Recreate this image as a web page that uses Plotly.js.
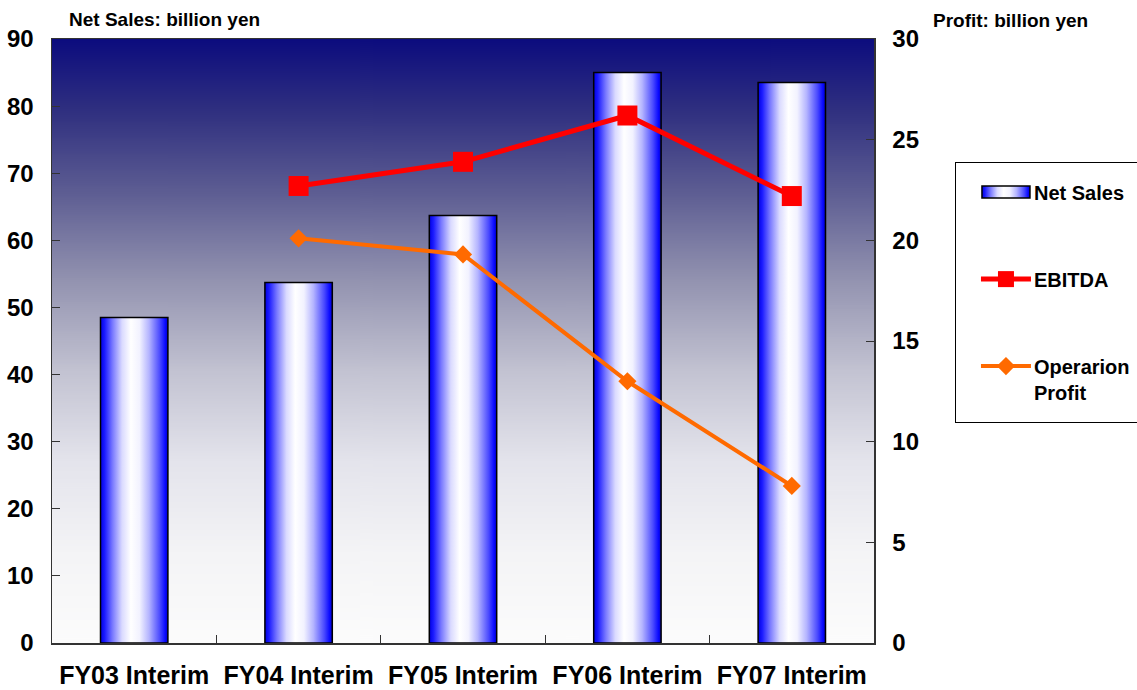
<!DOCTYPE html>
<html>
<head>
<meta charset="utf-8">
<script src="https://cdn.plot.ly/plotly-3.0.1.min.js"></script>
<style>
html,body{margin:0;padding:0;background:#fff;}
#chart{width:1137px;height:690px;}
</style>
</head>
<body>
<div id="chart"></div>
<script>
const categories = ["FY03 Interim", "FY04 Interim", "FY05 Interim", "FY06 Interim", "FY07 Interim"];
const netSales = [48.5, 53.7, 63.7, 85.0, 83.5];
const ebitda = [null, 22.7, 23.9, 26.2, 22.2];
const operationProfit = [null, 20.1, 19.3, 13.0, 7.8];
const leftTicks = [0, 10, 20, 30, 40, 50, 60, 70, 80, 90];
const rightTicks = [0, 5, 10, 15, 20, 25, 30];

const FONT = "'Liberation Sans', Arial, sans-serif";

// vertical background gradient as an image (navy at top to white at bottom)
function makeBgImage() {
  const c = document.createElement("canvas");
  c.width = 4; c.height = 600;
  const ctx = c.getContext("2d");
  const g = ctx.createLinearGradient(0, 0, 0, 600);
  [["0", "#0c0c7e"], ["0.12", "#303080"], ["0.25", "#5c5c92"], ["0.4", "#9393b0"],
   ["0.55", "#c3c3d2"], ["0.7", "#e4e4ec"], ["0.85", "#f4f4f6"], ["1", "#fcfcfc"]]
    .forEach(function (s) { g.addColorStop(parseFloat(s[0]), s[1]); });
  ctx.fillStyle = g;
  ctx.fillRect(0, 0, 4, 600);
  return c.toDataURL("image/png");
}

const traces = [
  {
    type: "bar", name: "Net Sales", x: categories, y: netSales,
    marker: {color: "#6a6aff", line: {color: "#000", width: 1.5}},
    legendgroup: "a", hoverinfo: "skip"
  },
  {
    type: "scatter", mode: "lines+markers", name: "EBITDA", x: categories, y: ebitda,
    yaxis: "y2", line: {color: "#ff0000", width: 5},
    marker: {symbol: "square", size: 20, color: "#ff0000"},
    legendgroup: "b", hoverinfo: "skip"
  },
  {
    type: "scatter", mode: "lines+markers", name: "Operarion<br>Profit", x: categories, y: operationProfit,
    yaxis: "y2", line: {color: "#ff6a00", width: 4},
    marker: {symbol: "diamond", size: 14, color: "#ff6a00"},
    legendgroup: "c", hoverinfo: "skip"
  }
];

const layout = {
  width: 1137, height: 690,
  margin: {l: 52, r: 263, t: 39, b: 47},
  paper_bgcolor: "#ffffff",
  plot_bgcolor: "rgba(0,0,0,0)",
  font: {family: FONT, color: "#000"},
  bargap: 0.59,
  showlegend: true,
  images: [{
    source: makeBgImage(), xref: "paper", yref: "paper", x: 0, y: 1,
    sizex: 1, sizey: 1, sizing: "stretch", xanchor: "left", yanchor: "top", layer: "below"
  }],
  legend: {
    x: 1.0985, xanchor: "left", y: 0.797, yanchor: "top",
    bordercolor: "#000", borderwidth: 1, bgcolor: "#fff",
    font: {family: FONT, size: 20, color: "#000", weight: "bold"},
    tracegroupgap: 58, itemwidth: 50, valign: "top",
    traceorder: "grouped"
  },
  xaxis: {
    type: "category", categoryarray: categories,
    showline: true, linecolor: "#333", linewidth: 1.5, mirror: true,
    ticks: "inside", tickson: "boundaries", ticklen: 8, tickcolor: "#333",
    tickfont: {family: FONT, size: 25, color: "#000", weight: "bold"},
    ticklabelstandoff: 9, showgrid: false, zeroline: false, fixedrange: true
  },
  yaxis: {
    range: [0, 90], tickvals: leftTicks, ticktext: leftTicks.map(String),
    showline: true, linecolor: "#333", linewidth: 1.5,
    ticks: "inside", ticklen: 8, tickcolor: "#333",
    tickfont: {family: FONT, size: 24, color: "#000", weight: "bold"},
    ticklabelstandoff: 12, showgrid: false, zeroline: false, fixedrange: true
  },
  yaxis2: {
    range: [0, 30], tickvals: rightTicks, ticktext: rightTicks.map(String),
    overlaying: "y", side: "right",
    showline: true, linecolor: "#333", linewidth: 1.5,
    ticks: "inside", ticklen: 8, tickcolor: "#333",
    tickfont: {family: FONT, size: 24, color: "#000", weight: "bold"},
    ticklabelstandoff: 12, showgrid: false, zeroline: false, fixedrange: true
  },
  annotations: [
    {text: "Net Sales: billion yen", xref: "paper", yref: "paper", x: 0.018, y: 1.0, xanchor: "left", yanchor: "bottom",
     yshift: 7, showarrow: false, font: {family: FONT, size: 19, color: "#000", weight: "bold"}},
    {text: "Profit: billion yen", xref: "paper", yref: "paper", x: 1.0, y: 1.0, xanchor: "left", yanchor: "bottom",
     xshift: 57, yshift: 6, showarrow: false, font: {family: FONT, size: 19, color: "#000", weight: "bold"}}
  ]
};

Plotly.newPlot("chart", traces, layout, {staticPlot: true, displayModeBar: false}).then(function (gd) {
  const svg = gd.querySelector(".main-svg");
  const NS = "http://www.w3.org/2000/svg";
  let defs = svg.querySelector("defs");
  if (!defs) { defs = document.createElementNS(NS, "defs"); svg.insertBefore(defs, svg.firstChild); }
  const g = document.createElementNS(NS, "linearGradient");
  g.setAttribute("id", "barGrad");
  g.setAttribute("x1", "0"); g.setAttribute("y1", "0"); g.setAttribute("x2", "1"); g.setAttribute("y2", "0");
  [["0", "#0000e0"], ["0.06", "#1a1aff"], ["0.18", "#7a7aff"], ["0.32", "#dadaff"],
   ["0.45", "#ffffff"], ["0.58", "#f2f2ff"], ["0.72", "#b4b4ff"], ["0.88", "#4a4aff"],
   ["0.96", "#0a0aff"], ["1", "#0000c8"]].forEach(function (s) {
    const st = document.createElementNS(NS, "stop");
    st.setAttribute("offset", s[0]); st.setAttribute("stop-color", s[1]);
    g.appendChild(st);
  });
  defs.appendChild(g);

  gd.querySelectorAll(".barlayer .bars path").forEach(function (p) { p.style.fill = "url(#barGrad)"; });
  const leg = gd.querySelector(".legend");
  if (leg) {
    const lbg = leg.querySelector("rect.bg");
    if (lbg) {
      const h = parseFloat(lbg.getAttribute("height"));
      lbg.setAttribute("height", h + 20);
      lbg.setAttribute("width", 195);
    }
    const sb = leg.querySelector(".scrollbox");
    if (sb) {
      sb.removeAttribute("clip-path");
      sb.setAttribute("transform", "translate(0,10)");
    }
    leg.querySelectorAll(".legendsymbols").forEach(function (s) { s.setAttribute("transform", "translate(20,0)"); });
    leg.querySelectorAll(".traces").forEach(function (tr, i) {
      const pts = tr.querySelectorAll(".legendpoints path");
      let cx = 20;
      pts.forEach(function (p) {
        const m = /translate\(([-\d.]+)/.exec(p.getAttribute("transform") || "");
        if (m) cx = parseFloat(m[1]);
      });
      if (i === 0) {
        pts.forEach(function (p) {
          p.setAttribute("d", "M-24,6H24V-6H-24Z");
          p.style.fill = "url(#barGrad)";
          p.style.stroke = "#000";
          p.style.strokeWidth = "1.5px";
        });
      } else {
        tr.querySelectorAll(".legendlines path").forEach(function (lp) {
          lp.setAttribute("d", "M" + (cx - 5) + ",0h50");
        });
      }
    });
    leg.querySelectorAll(".legendtext").forEach(function (t) {
      const x = parseFloat(t.getAttribute("x") || "0");
      t.setAttribute("x", x + 18);
      t.querySelectorAll("tspan.line").forEach(function (ts) {
        const tx = parseFloat(ts.getAttribute("x") || "0");
        ts.setAttribute("x", tx + 18);
      });
    });
  }
});
</script>
</body>
</html>
